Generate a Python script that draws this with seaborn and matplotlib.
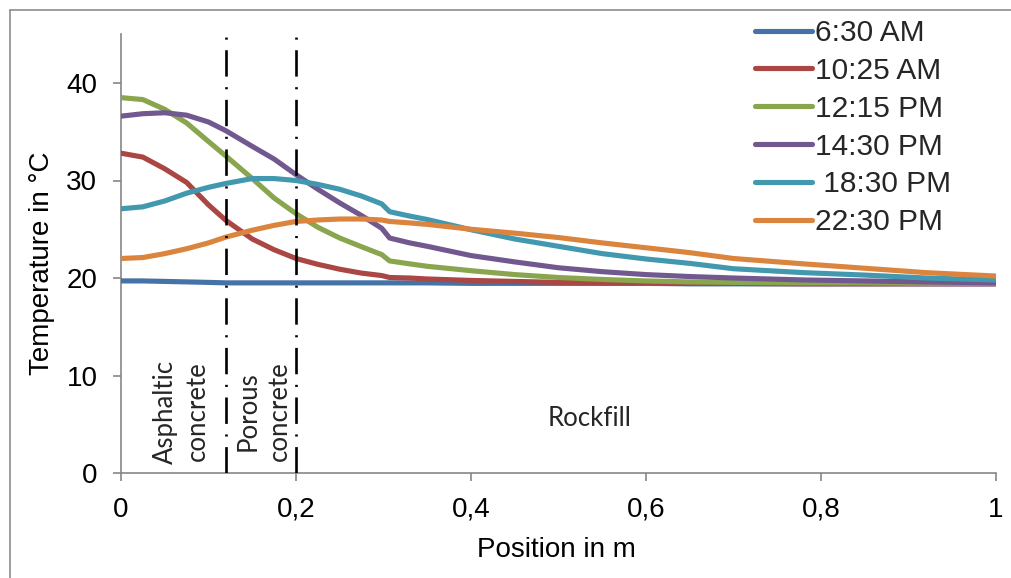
import matplotlib
matplotlib.use("Agg")
import matplotlib.pyplot as plt
from matplotlib.lines import Line2D
import seaborn as sns
import pandas as pd

# ---------------- data ----------------
position = [0, 0.025, 0.05, 0.075, 0.1, 0.12, 0.15, 0.175, 0.2, 0.225, 0.25, 0.275,
            0.298, 0.307, 0.33, 0.35, 0.4, 0.45, 0.5, 0.55, 0.6, 0.65, 0.7, 0.78,
            0.85, 0.92, 1.0]

t_0630 = [19.7, 19.7, 19.65, 19.6, 19.55, 19.5, 19.5, 19.5, 19.5, 19.5, 19.5, 19.5,
          19.5, 19.5, 19.5, 19.5, 19.45, 19.45, 19.45, 19.45, 19.45, 19.4, 19.4, 19.4,
          19.4, 19.4, 19.4]
t_1025 = [32.8, 32.4, 31.2, 29.8, 27.5, 25.9, 24.0, 22.9, 22.0, 21.4, 20.9, 20.5,
          20.25, 20.05, 20.0, 19.9, 19.75, 19.65, 19.55, 19.5, 19.5, 19.45, 19.45, 19.4,
          19.4, 19.4, 19.4]
t_1215 = [38.5, 38.3, 37.3, 35.9, 34.0, 32.5, 30.2, 28.2, 26.6, 25.2, 24.1, 23.2,
          22.4, 21.75, 21.45, 21.2, 20.75, 20.35, 20.05, 19.85, 19.7, 19.6, 19.55, 19.5,
          19.5, 19.45, 19.45]
t_1430 = [36.6, 36.85, 36.95, 36.7, 36.0, 35.1, 33.5, 32.2, 30.6, 29.1, 27.7, 26.4,
          25.1, 24.1, 23.6, 23.25, 22.3, 21.65, 21.05, 20.65, 20.35, 20.15, 20.0, 19.8,
          19.7, 19.6, 19.5]
t_1830 = [27.1, 27.3, 27.9, 28.7, 29.3, 29.7, 30.2, 30.2, 30.0, 29.6, 29.1, 28.4,
          27.6, 26.8, 26.35, 26.0, 24.95, 24.0, 23.25, 22.5, 21.95, 21.5, 20.95, 20.55,
          20.3, 20.0, 19.8]
t_2230 = [22.0, 22.1, 22.5, 23.0, 23.6, 24.2, 24.9, 25.4, 25.8, 25.95, 26.05, 26.05,
          25.95, 25.8, 25.65, 25.5, 25.0, 24.6, 24.15, 23.6, 23.1, 22.6, 22.0, 21.45,
          21.0, 20.55, 20.2]

series_labels = ["6:30 AM", "10:25 AM", "12:15 PM", "14:30 PM", " 18:30 PM", "22:30 PM"]
series_values = [t_0630, t_1025, t_1215, t_1430, t_1830, t_2230]
series_colors = ["#4572A7", "#AA4643", "#89A54E", "#71588F", "#4198AF", "#DB843D"]

layer_boundaries = [0.12, 0.2]
x_ticks = [0, 0.2, 0.4, 0.6, 0.8, 1.0]
x_tick_labels = ["0", "0,2", "0,4", "0,6", "0,8", "1"]
y_ticks = [0, 10, 20, 30, 40]

# ---------------- figure ----------------
sns.set_style("white")
plt.rcParams["font.family"] = ["Liberation Sans", "DejaVu Sans"]

W, H = 1011, 578
fig = plt.figure(figsize=(W / 100, H / 100), dpi=100)
ax_left, ax_right, ax_bottom, ax_top = 121, 996, 473, 34.25
ax = fig.add_axes([ax_left / W, 1 - ax_bottom / H,
                   (ax_right - ax_left) / W, (ax_bottom - ax_top) / H])

rows = []
for lab, vals in zip(series_labels, series_values):
    for x, v in zip(position, vals):
        rows.append({"Position": x, "Temperature": v, "Time": lab})
df = pd.DataFrame(rows)

lw = 3.7
sns.lineplot(data=df, x="Position", y="Temperature", hue="Time",
             hue_order=series_labels, palette=series_colors, sort=False,
             linewidth=lw, ax=ax, legend=False, zorder=3,
             solid_capstyle="round", solid_joinstyle="round")

for b in layer_boundaries:
    ax.axvline(b, ymin=0, ymax=1, color="black", linewidth=1.9,
               dashes=(10, 4, 0.8, 4), zorder=5)

ax.set_xlim(0, 1)
ax.set_ylim(0, 45)
ax.set_xticks(x_ticks)
ax.set_xticklabels(x_tick_labels)
ax.set_yticks(y_ticks)

grey = "#868686"
for s in ["top", "right"]:
    ax.spines[s].set_visible(False)
for s in ["left", "bottom"]:
    ax.spines[s].set_color(grey)
    ax.spines[s].set_linewidth(1.2)
ax.tick_params(axis="both", which="major", direction="out", length=6,
               width=1.2, color=grey, labelsize=20, labelcolor="black",
               left=True, bottom=True, pad=11)
ax.grid(False)

ax.set_xlabel("Position in m", fontsize=20, color="black")
ax.set_ylabel("Temperature in °C", fontsize=20, color="black")
ax.xaxis.set_label_coords(0.498, -0.145)
ax.yaxis.set_label_coords(-0.0754, 0.478)

# layer annotations
ann_font = ["Lato", "DejaVu Sans"]
ax.text(0.069, 6.3, "Asphaltic\nconcrete", rotation=90, ha="center", va="center",
        multialignment="center", fontsize=18.5, family=ann_font, linespacing=1.3)
ax.text(0.163, 6.3, "Porous\nconcrete", rotation=90, ha="center", va="center",
        multialignment="center", fontsize=18.5, family=ann_font, linespacing=1.3)
ax.text(0.535, 5.6, "Rockfill", ha="center", va="center",
        fontsize=18.5, family=ann_font)

# legend
handles = [Line2D([0], [0], color=c, linewidth=lw, solid_capstyle="round")
           for c in series_colors]
fig.legend(handles, series_labels, loc="upper left",
           bbox_to_anchor=(755 / W, 1 - 19 / H), frameon=False,
           fontsize=21.5, handlelength=1.9, handletextpad=0.1,
           labelspacing=0.33, borderpad=0, borderaxespad=0)

# outer frame (left and top edges visible in the reference)
fx, fy = 9.5 / W, 1 - 10 / H
fig.add_artist(Line2D([fx, fx], [0, fy], transform=fig.transFigure,
                      color="#8c8c8c", linewidth=1.2))
fig.add_artist(Line2D([fx, 1], [fy, fy], transform=fig.transFigure,
                      color="#8c8c8c", linewidth=1.2))

fig.savefig("out.png", dpi=100)
